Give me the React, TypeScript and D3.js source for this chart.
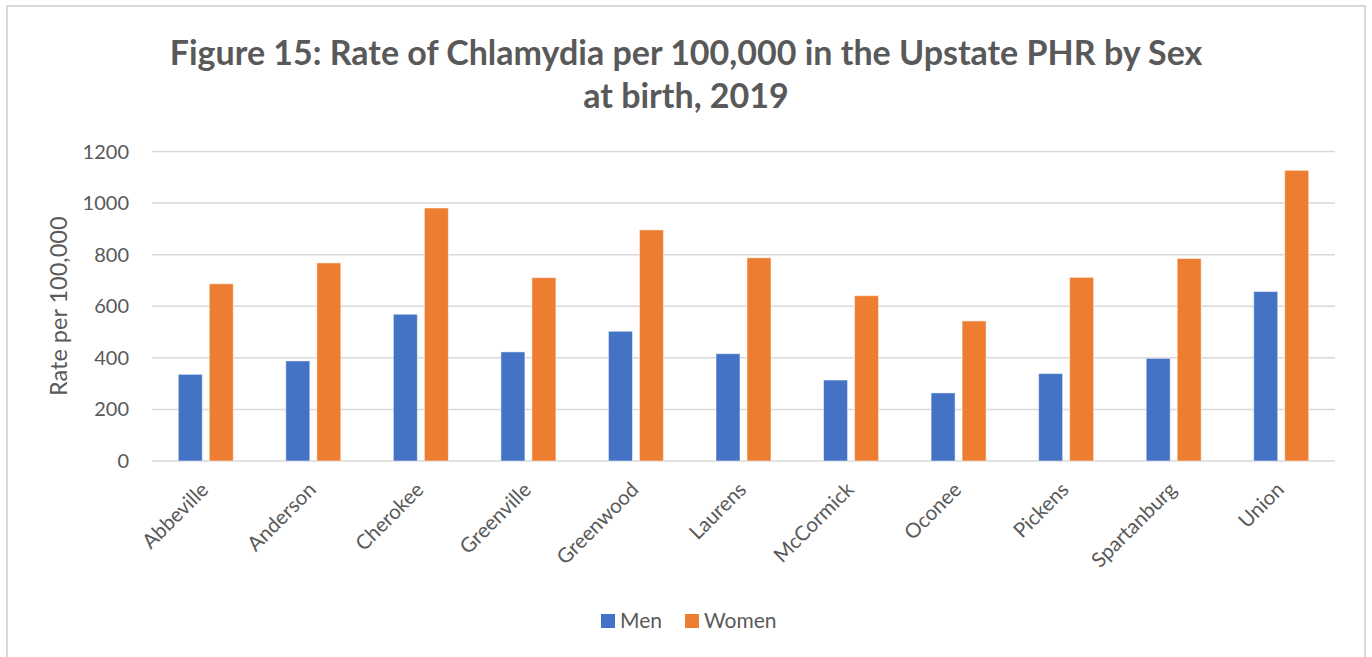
import React from 'react'
import { scaleBand, scaleLinear } from 'd3'

const counties = [
  'Abbeville',
  'Anderson',
  'Cherokee',
  'Greenville',
  'Greenwood',
  'Laurens',
  'McCormick',
  'Oconee',
  'Pickens',
  'Spartanburg',
  'Union'
]
const men = [336, 388, 569, 423, 503, 416, 314, 264, 339, 398, 657]
const women = [687, 768, 981, 711, 896, 788, 641, 543, 712, 785, 1127]
const yTicks = [0, 200, 400, 600, 800, 1000, 1200]
const seriesNames = ['Men', 'Women']
const titleLines = ['Figure 15: Rate of Chlamydia per 100,000 in the Upstate PHR by Sex', 'at birth, 2019']

const W = 1372
const H = 657
const PLOT = { left: 152, right: 1335, top: 151.5, bottom: 461 }
const COLORS = ['#4472C4', '#ED7D31']
const TEXT = '#595959'
const FONT = 'Lato, Carlito, Calibri, sans-serif'

export default function App() {
  const x = scaleBand<string>().domain(counties).range([PLOT.left, PLOT.right])
  const y = scaleLinear().domain([0, 1200]).range([PLOT.bottom, PLOT.top])
  const barW = 24
  const gap = 7
  const series = [men, women]

  return (
    <svg width={W} height={H} style={{ position: 'absolute', left: 0, top: 0, background: '#fff' }} fontFamily={FONT}>
      <rect x={7} y={6} width={1358} height={H + 10} fill="#fff" stroke="#d9d9d9" strokeWidth={2} />

      <g className="title" fill={TEXT} fontWeight={700} fontSize={34} textAnchor="middle">
        {titleLines.map((t, i) => (
          <text key={t} x={686} y={65 + i * 43}>
            {t}
          </text>
        ))}
      </g>

      <g className="grid">
        {yTicks.map((t) => (
          <g key={t}>
            <line x1={PLOT.left} x2={PLOT.right} y1={y(t)} y2={y(t)} stroke="#d9d9d9" strokeWidth={1.5} />
            <text x={129} y={y(t)} dy="0.35em" textAnchor="end" fill={TEXT} fontSize={20}>
              {t}
            </text>
          </g>
        ))}
      </g>

      <text
        transform={`translate(67 ${(PLOT.top + PLOT.bottom) / 2}) rotate(-90)`}
        textAnchor="middle"
        fill={TEXT}
        fontSize={23.5}
      >
        Rate per 100,000
      </text>

      <g className="bars">
        {counties.map((c, i) => {
          const cx = x(c)! + x.bandwidth() / 2
          return series.map((s, k) => {
            const bx = k === 0 ? cx - gap / 2 - barW : cx + gap / 2
            return (
              <rect
                key={c + k}
                x={bx}
                y={y(s[i])}
                width={barW}
                height={y(0) - y(s[i])}
                fill={COLORS[k]}
                stroke="#fff"
                strokeOpacity={0.5}
                strokeWidth={1}
              />
            )
          })
        })}
      </g>

      <g className="x-labels" fill={TEXT} fontSize={20.5}>
        {counties.map((c) => {
          const cx = x(c)! + x.bandwidth() / 2
          return (
            <text key={c} transform={`translate(${cx + 4} ${PLOT.bottom + 30}) rotate(-45)`} textAnchor="end">
              {c}
            </text>
          )
        })}
      </g>

      <g className="legend" fill={TEXT} fontSize={21}>
        {seriesNames.map((n, k) => {
          const lx = k === 0 ? 601 : 685
          return (
            <g key={n}>
              <rect x={lx} y={614} width={14} height={14} fill={COLORS[k]} />
              <text x={lx + 19} y={621} dy="0.35em">
                {n}
              </text>
            </g>
          )
        })}
      </g>
    </svg>
  )
}
